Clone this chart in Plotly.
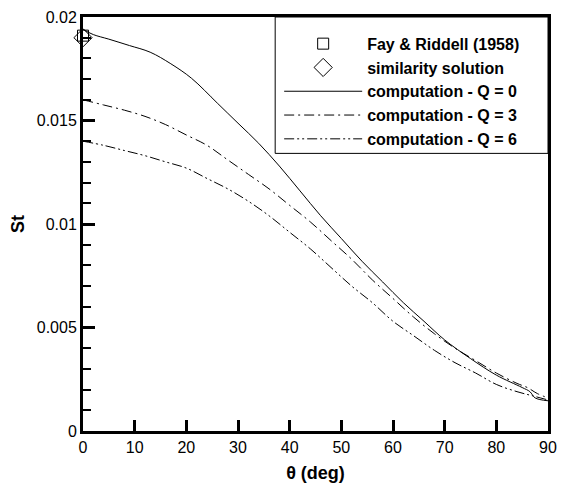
import plotly.graph_objects as go

# ---- data ----
theta_q0 = [0, 2, 5, 9, 13, 17, 21, 26, 30, 34, 38, 42, 46, 50, 54, 58, 62, 66, 70, 75, 80, 85, 86.5, 87.5, 90]
st_q0 = [0.0194, 0.01915, 0.01893, 0.01862, 0.0183, 0.01774, 0.01704, 0.01584, 0.01487, 0.0139, 0.0128, 0.0116,
         0.0104, 0.0093, 0.0082, 0.0072, 0.0062, 0.0053, 0.0044, 0.0035, 0.0027, 0.0021, 0.0019, 0.0016, 0.00146]

theta_q3 = [0, 4, 8, 12, 16, 20, 24, 28, 32, 36, 40, 44, 48, 52, 56, 60, 64, 68, 72, 76, 80, 84, 86, 88, 90]
st_q3 = [0.0160, 0.01575, 0.0155, 0.0152, 0.0148, 0.0143, 0.0138, 0.0131, 0.0124, 0.0117, 0.0109, 0.0101,
         0.0092, 0.0083, 0.0073, 0.0064, 0.0055, 0.0047, 0.0040, 0.0034, 0.0028, 0.0023, 0.0021, 0.0018, 0.0016]

theta_q6 = [0, 4, 8, 12, 16, 20, 24, 28, 32, 36, 40, 44, 48, 52, 56, 60, 64, 68, 72, 76, 80, 84, 87, 90]
st_q6 = [0.0140, 0.0138, 0.01355, 0.0133, 0.0130, 0.0127, 0.0122, 0.0117, 0.0111, 0.0104, 0.0096, 0.0088,
         0.0079, 0.0070, 0.0062, 0.0053, 0.0046, 0.0039, 0.0033, 0.0028, 0.00225, 0.0019, 0.0017, 0.0015]

fay_theta = [0]
fay_st = [0.0191]
sim_theta = [0]
sim_st = [0.0190]

x_tickvals = [0, 10, 20, 30, 40, 50, 60, 70, 80, 90]
y_tickvals = [0, 0.005, 0.01, 0.015, 0.02]
y_ticktext = ["0", "0.005", "0.01", "0.015", "0.02"]

FONT = "Liberation Sans, Arial, Helvetica, sans-serif"

fig = go.Figure()
fig.add_trace(go.Scatter(x=fay_theta, y=fay_st, mode="markers", name="Fay & Riddell (1958)",
                         marker=dict(symbol="square-open", size=11, color="black", line=dict(width=1)),
                         cliponaxis=False))
fig.add_trace(go.Scatter(x=sim_theta, y=sim_st, mode="markers", name="similarity solution",
                         marker=dict(symbol="diamond-open", size=14, color="black", line=dict(width=1)),
                         cliponaxis=False))
fig.add_trace(go.Scatter(x=theta_q0, y=st_q0, mode="lines", name="computation - Q = 0",
                         line=dict(color="black", width=1), line_shape="spline"))
fig.add_trace(go.Scatter(x=theta_q3, y=st_q3, mode="lines", name="computation - Q = 3",
                         line=dict(color="black", width=1, dash="10px,4px,2px,4px"), line_shape="spline"))
fig.add_trace(go.Scatter(x=theta_q6, y=st_q6, mode="lines", name="computation - Q = 6",
                         line=dict(color="black", width=1, dash="10px,3px,2px,3px,2px,3px"), line_shape="spline"))

L, R, T, B = 83, 16, 9, 56
W, H = 566, 490
pw, ph = W - L - R, H - T - B

def px(xp):
    return (xp - L) / pw

def py(yp):
    return (H - B - yp) / ph

fig.add_shape(type="rect", xref="paper", yref="paper", x0=px(276), x1=1, y0=py(149), y1=1,
              line=dict(color="black", width=1), fillcolor="white", layer="below")

fig.update_layout(
    width=W, height=H,
    margin=dict(l=L, r=R, t=T, b=B),
    paper_bgcolor="white", plot_bgcolor="white",
    font=dict(family=FONT, color="black"),
    showlegend=True,
    legend=dict(x=px(280), y=py(19), xanchor="left", yanchor="top",
                bgcolor="rgba(0,0,0,0)", borderwidth=0, itemwidth=78,
                font=dict(family=FONT, size=16, color="black", weight="bold"),
                tracegroupgap=0),
    xaxis=dict(range=[0, 90], tickvals=x_tickvals, ticks="inside", ticklen=11, tickwidth=2.5,
               tickcolor="black", showline=True, linewidth=3, linecolor="black", mirror=True,
               showgrid=False, zeroline=False, tickfont=dict(size=16, family=FONT),
               title=dict(text="θ (deg)", font=dict(size=18, family=FONT, weight="bold"), standoff=12)),
    yaxis=dict(range=[0, 0.02], tickvals=y_tickvals, ticktext=y_ticktext, ticks="inside", ticklen=12,
               tickwidth=2.5, tickcolor="black", showline=True, linewidth=3, linecolor="black", mirror=True,
               showgrid=False, zeroline=False, tickfont=dict(size=16, family=FONT),
               minor=dict(dtick=0.001, ticks="inside", ticklen=8, tickwidth=2, tickcolor="black", showgrid=False),
               title=dict(text="St", font=dict(size=18, family=FONT, weight="bold"), standoff=8)),
)

fig.write_html("out.html", config={"displayModeBar": False},
               post_script="document.body.style.margin='0';document.body.style.overflow='hidden';")
